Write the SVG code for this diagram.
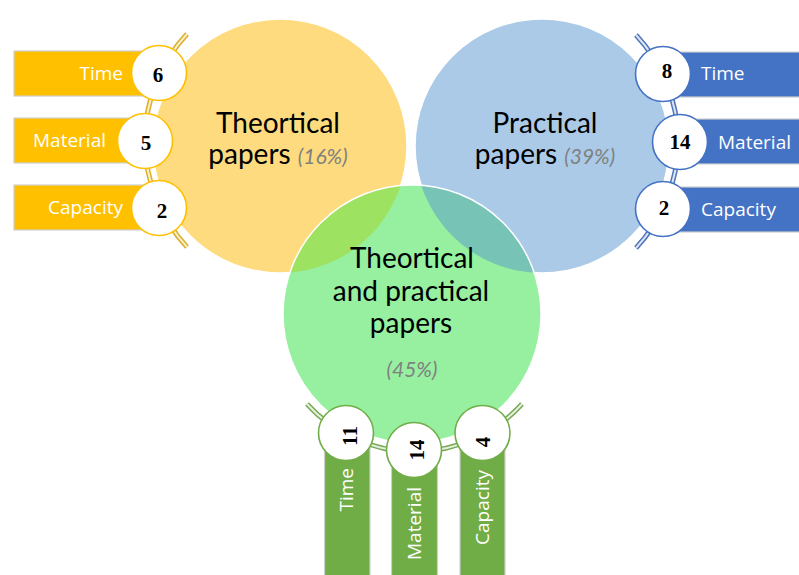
<svg xmlns="http://www.w3.org/2000/svg" width="799" height="575" viewBox="0 0 799 575">
<defs>
<style>
.lbl{font-family:"Open Sans","Liberation Sans",sans-serif;font-size:19px;fill:#fff}
.num{font-family:"Liberation Serif","Times New Roman",serif;font-size:21px;font-weight:bold;fill:#000}
.ttl{font-family:Lato,"Open Sans",sans-serif;font-size:28px;fill:#000}
.pct{font-family:Lato,"Open Sans",sans-serif;font-size:21px;font-style:italic;fill:#808080}
.badge{fill:#fff;stroke-width:1.6}
.rb{stroke:#cfcfcf;stroke-width:1.2}
</style>
<clipPath id="cg"><circle cx="412" cy="314" r="129"/></clipPath>
</defs>
<rect width="799" height="575" fill="#fff"/>

<g id="circle-theoretical">
<circle cx="280" cy="146" r="127" fill="#FEDB7E" stroke="#fff" stroke-width="1.5"/>
</g>
<g id="circle-practical">
<circle cx="542" cy="146" r="127" fill="#AACAE8" stroke="#fff" stroke-width="1.5"/>
</g>
<g id="circle-both">
<circle cx="412" cy="314" r="129" fill="#96F0A0"/>
<g clip-path="url(#cg)">
<circle cx="280" cy="146" r="127" fill="#9EE262"/>
<circle cx="542" cy="146" r="127" fill="#77C4B6"/>
</g>
<circle cx="412" cy="314" r="129" fill="none" stroke="#fff" stroke-width="1.5"/>
</g>

<g id="connectors">
<path d="M187 34 A156 156 0 0 0 187 247" fill="none" stroke="#D9AE2A" stroke-width="5"/>
<path d="M187 34 A156 156 0 0 0 187 247" fill="none" stroke="#FBEFC8" stroke-width="2"/>
<path d="M636 35 A156 156 0 0 1 636 248" fill="none" stroke="#4F74B8" stroke-width="5"/>
<path d="M636 35 A156 156 0 0 1 636 248" fill="none" stroke="#DDE6F4" stroke-width="2"/>
<path d="M307 404 A145 145 0 0 0 522 404" fill="none" stroke="#79A956" stroke-width="5"/>
<path d="M307 404 A145 145 0 0 0 522 404" fill="none" stroke="#E3F0DA" stroke-width="2"/>
</g>

<g id="theoretical-time">
<rect class="rb" x="14" y="51" width="145" height="45" fill="#FFC000"/>
<circle class="badge" cx="159" cy="73" r="27.5" stroke="#FFC000"/>
<text class="lbl" x="123" y="80" text-anchor="end">Time</text>
<text class="num" x="158" y="81.5" text-anchor="middle">6</text>
</g>
<g id="theoretical-material">
<rect class="rb" x="14" y="118" width="131" height="45" fill="#FFC000"/>
<circle class="badge" cx="145" cy="141" r="27.5" stroke="#FFC000"/>
<text class="lbl" x="106" y="147" text-anchor="end">Material</text>
<text class="num" x="146" y="150" text-anchor="middle">5</text>
</g>
<g id="theoretical-capacity">
<rect class="rb" x="14" y="185" width="145" height="45" fill="#FFC000"/>
<circle class="badge" cx="159" cy="208" r="27.5" stroke="#FFC000"/>
<text class="lbl" x="123" y="214" text-anchor="end">Capacity</text>
<text class="num" x="162" y="218" text-anchor="middle">2</text>
</g>

<g id="practical-time">
<rect class="rb" x="663" y="52" width="140" height="45" fill="#4472C4"/>
<circle class="badge" cx="663" cy="74" r="27.5" stroke="#4472C4"/>
<text class="lbl" x="701" y="80">Time</text>
<text class="num" x="667" y="78" text-anchor="middle">8</text>
</g>
<g id="practical-material">
<rect class="rb" x="680" y="119" width="123" height="45" fill="#4472C4"/>
<circle class="badge" cx="680" cy="142" r="27.5" stroke="#4472C4"/>
<text class="lbl" x="718" y="149">Material</text>
<text class="num" x="680" y="149" text-anchor="middle">14</text>
</g>
<g id="practical-capacity">
<rect class="rb" x="663" y="187" width="140" height="45" fill="#4472C4"/>
<circle class="badge" cx="663" cy="209" r="27.5" stroke="#4472C4"/>
<text class="lbl" x="701" y="216">Capacity</text>
<text class="num" x="664" y="215" text-anchor="middle">2</text>
</g>

<g id="both-time">
<rect class="rb" x="324.5" y="433" width="45.5" height="150" fill="#70AD47"/>
<circle class="badge" cx="346" cy="433" r="27.5" stroke="#70AD47"/>
<text class="lbl" transform="translate(353 468) rotate(-90)" text-anchor="end">Time</text>
<text class="num" transform="translate(357 436) rotate(-90)" text-anchor="middle">11</text>
</g>
<g id="both-material">
<rect class="rb" x="391.5" y="450" width="46" height="133" fill="#70AD47"/>
<circle class="badge" cx="414" cy="450" r="27.5" stroke="#70AD47"/>
<text class="lbl" transform="translate(421 487) rotate(-90)" text-anchor="end">Material</text>
<text class="num" transform="translate(424 450) rotate(-90)" text-anchor="middle">14</text>
</g>
<g id="both-capacity">
<rect class="rb" x="460" y="433" width="45" height="150" fill="#70AD47"/>
<circle class="badge" cx="482.5" cy="433" r="27.5" stroke="#70AD47"/>
<text class="lbl" transform="translate(489 470) rotate(-90)" text-anchor="end">Capacity</text>
<text class="num" transform="translate(490 442) rotate(-90)" text-anchor="middle">4</text>
</g>

<g id="titles">
<text class="ttl" x="278" y="133" text-anchor="middle">Theortical</text>
<text x="278" y="164" text-anchor="middle"><tspan class="ttl">papers </tspan><tspan class="pct">(16%)</tspan></text>
<text class="ttl" x="545" y="133" text-anchor="middle">Practical</text>
<text x="545" y="164" text-anchor="middle"><tspan class="ttl">papers </tspan><tspan class="pct">(39%)</tspan></text>
<text class="ttl" x="412" y="268" text-anchor="middle">Theortical</text>
<text class="ttl" x="411" y="301" text-anchor="middle">and practical</text>
<text class="ttl" x="411" y="333" text-anchor="middle">papers</text>
<text class="pct" x="412" y="377" text-anchor="middle">(45%)</text>
</g>
</svg>
